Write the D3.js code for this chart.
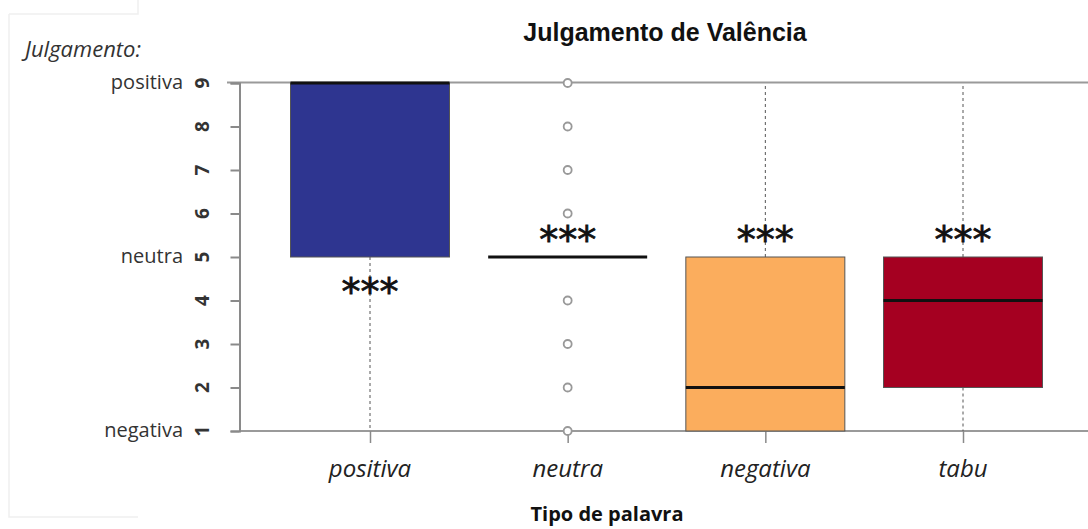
<!DOCTYPE html>
<html><head><meta charset="utf-8">
<script src="https://cdn.jsdelivr.net/npm/d3@7"></script>
<style>body{margin:0;background:#fff}svg{display:block}</style>
</head><body>
<script>
const categories = ["positiva","neutra","negativa","tabu"];
const q1 = [5,5,1,2];
const median = [9,5,2,4];
const q3 = [9,5,5,5];
const whiskerLow = [1,5,1,1];
const whiskerHigh = [9,5,9,9];
const outliers = [[],[1,2,3,4,6,7,8,9],[],[]];
const colors = ["#2e3590","#ffffff","#fbad5d","#a50021"];
const signif = ["***","***","***","***"];
const signifPos = ["below","above","above","above"];
const yTicks = [1,2,3,4,5,6,7,8,9];
const yTickNames = {1:"negativa",5:"neutra",9:"positiva"};

const W=1088,H=529;
const svg=d3.select("body").append("svg").attr("width",W).attr("height",H);

// faint screenshot frame
svg.append("path").attr("d","M9,14 V517 H138 M9,14 H138 V0").attr("fill","none").attr("stroke","#f0f0f0").attr("stroke-width",1.5);

const y=d3.scaleLinear().domain([1,9]).range([431,83]);
const x=d3.scalePoint().domain(categories).range([370,963]);
const bw=159;

// frame lines
svg.append("line").attr("x1",227).attr("x2",W).attr("y1",82.5).attr("y2",82.5).attr("stroke","#9a9a9a").attr("stroke-width",2);
svg.append("line").attr("x1",239).attr("x2",W).attr("y1",431).attr("y2",431).attr("stroke","#9a9a9a").attr("stroke-width",2);

// y axis
const ya=svg.append("g").attr("transform","translate(239.5,0)").call(d3.axisLeft(y).tickValues(yTicks).tickSize(9).tickFormat(""));
ya.select(".domain").attr("stroke","#8a8a8a").attr("stroke-width",2);
ya.selectAll(".tick line").attr("stroke","#8a8a8a").attr("stroke-width",2);
yTicks.forEach(t=>{
  svg.append("text").attr("transform",`translate(209,${y(t)}) rotate(-90)`).attr("text-anchor","middle")
    .attr("font-family","Open Sans, sans-serif").attr("font-size",19).attr("font-weight","bold").attr("fill","#333").text(t);
  if(yTickNames[t]) svg.append("text").attr("x",183).attr("y",y(t)+6).attr("text-anchor","end")
    .attr("font-family","Open Sans, sans-serif").attr("font-size",20).attr("fill","#333").text(yTickNames[t]);
});

// x axis
const xa=svg.append("g").attr("transform","translate(0,431)").call(d3.axisBottom(x).tickSize(12).tickFormat(""));
xa.select(".domain").remove();
xa.selectAll(".tick line").attr("stroke","#8a8a8a").attr("stroke-width",1.5);
categories.forEach(c=>{
  svg.append("text").attr("x",x(c)).attr("y",477).attr("text-anchor","middle")
    .attr("font-family","Open Sans, sans-serif").attr("font-style","italic").attr("font-size",24).attr("fill","#222").text(c);
});

// boxes
categories.forEach((c,i)=>{
  const cx=x(c);
  const dash="3,3";
  if(whiskerHigh[i]>q3[i]) svg.append("line").attr("x1",cx).attr("x2",cx).attr("y1",y(q3[i])).attr("y2",y(whiskerHigh[i])).attr("stroke","#555").attr("stroke-dasharray",dash);
  if(whiskerLow[i]<q1[i]) svg.append("line").attr("x1",cx).attr("x2",cx).attr("y1",y(q1[i])).attr("y2",y(whiskerLow[i])).attr("stroke","#555").attr("stroke-dasharray",dash);
  if(q3[i]>q1[i]) svg.append("rect").attr("x",cx-bw/2).attr("width",bw).attr("y",y(q3[i])).attr("height",y(q1[i])-y(q3[i]))
    .attr("fill",colors[i]).attr("stroke","#555").attr("stroke-width",1);
  svg.append("line").attr("x1",cx-bw/2).attr("x2",cx+bw/2).attr("y1",y(median[i])).attr("y2",y(median[i])).attr("stroke","#111").attr("stroke-width",3);
  outliers[i].forEach(v=>{
    svg.append("circle").attr("cx",cx).attr("cy",y(v)).attr("r",4).attr("fill","#fff").attr("stroke","#999").attr("stroke-width",1.8);
  });
  const centre = signifPos[i]==="below" ? y(q1[i])+31 : y(q3[i])-21;
  svg.append("text").attr("x",cx).attr("y",centre+17).attr("text-anchor","middle")
    .attr("font-family","DejaVu Sans, sans-serif").attr("font-size",38).attr("stroke","#111").attr("stroke-width",0.8).attr("fill","#111").text(signif[i]);
});

// titles
svg.append("text").attr("x",665).attr("y",41).attr("text-anchor","middle").attr("font-family","Liberation Sans, Arial, sans-serif")
  .attr("font-weight","bold").attr("font-size",25).attr("fill","#111").text("Julgamento de Valência");
svg.append("text").attr("x",25).attr("y",57).attr("font-family","Open Sans, sans-serif").attr("font-style","italic")
  .attr("font-size",22).attr("fill","#333").text("Julgamento:");
svg.append("text").attr("x",607).attr("y",521).attr("text-anchor","middle").attr("font-family","Open Sans, sans-serif")
  .attr("font-weight","bold").attr("font-size",20).attr("fill","#111").text("Tipo de palavra");
</script>
</body></html>
